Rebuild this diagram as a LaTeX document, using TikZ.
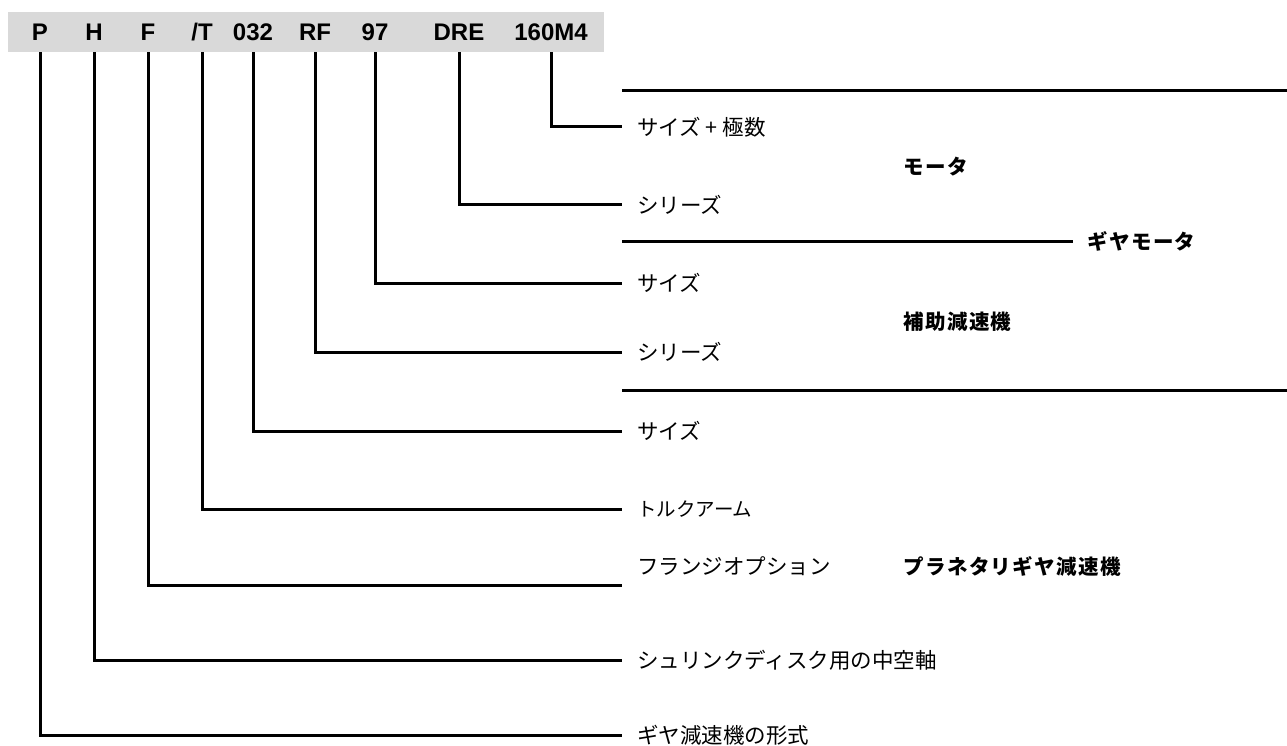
\documentclass[tikz,border=0pt]{standalone}
\usepackage{fontspec}
\setmainfont{Liberation Sans}
\newfontfamily\jp{Noto Sans CJK JP}
\begin{document}
\begin{tikzpicture}[x=1pt,y=-1pt,
  hdr/.style={inner sep=0pt,minimum height=40pt,anchor=center,font=\fontsize{24}{28}\selectfont\bfseries},
  lbl/.style={anchor=west,inner xsep=15pt,inner ysep=0pt,font=\jp\fontsize{21.5}{24}\selectfont},
  grp/.style={anchor=west,inner sep=0pt,font=\jp\bfseries\fontsize{20.5}{24}\selectfont\addfontfeatures{LetterSpace=7}},
  conn/.style={draw=black,line width=3pt}]
\useasboundingbox (0,0) rectangle (1287,746);
\fill[gray!30] (8,12) rectangle (604,52);
% header tokens
\node[hdr] (hP) at (40,32) {P};
\node[hdr] (hH) at (94,32) {H};
\node[hdr] (hF) at (148,32) {F};
\node[hdr] (hT) at (202,32) {/T};
\node[hdr] (h032) at (253,32) {032};
\node[hdr] (hRF) at (315,32) {RF};
\node[hdr] (h97) at (375,32) {97};
\node[hdr] (hDRE) at (459,32) {DRE};
\node[hdr] (hM) at (551,32) {160M4};
% labels
\node[lbl] (lM) at (622,127) {サイズ + 極数};
\node[lbl] (lDRE) at (622,205) {シリーズ};
\node[lbl] (l97) at (622,283) {サイズ};
\node[lbl] (lRF) at (622,352) {シリーズ};
\node[lbl] (l032) at (622,431) {サイズ};
\node[lbl,font=\jp\fontsize{19.5}{24}\selectfont] (lT) at (622,509) {トルクアーム};
\node[lbl] (lF) at (622,566) {フランジオプション};
\coordinate (cF) at (622,585);
\node[lbl] (lH) at (622,660) {シュリンクディスク用の中空軸};
\node[lbl] (lP) at (622,735) {ギヤ減速機の形式};
% group titles
\node[grp] (gMot) at (903,167) {モータ};
\node[grp] (gGM) at (1087,241) {ギヤモータ};
\node[grp] (gAux) at (903,322) {補助減速機};
\node[grp] (gPl) at (903,566) {プラネタリギヤ減速機};
% separators
\coordinate (s1a) at (622,91); \coordinate (s1b) at (1287,91);
\coordinate (s2a) at (622,241); \coordinate (s2b) at (1073,241);
\coordinate (s3a) at (622,390); \coordinate (s3b) at (1287,390);
\draw[conn] (s1a) -- (s1b);
\draw[conn] (s2a) -- (s2b);
\draw[conn] (s3a) -- (s3b);
% connectors
\draw[conn] (hM.south) |- (lM.west);
\draw[conn] (hDRE.south) |- (lDRE.west);
\draw[conn] (h97.south) |- (l97.west);
\draw[conn] (hRF.south) |- (lRF.west);
\draw[conn] (h032.south) |- (l032.west);
\draw[conn] (hT.south) |- (lT.west);
\draw[conn] (hF.south) |- (cF);
\draw[conn] (hH.south) |- (lH.west);
\draw[conn] (hP.south) |- (lP.west);
\end{tikzpicture}
\end{document}
